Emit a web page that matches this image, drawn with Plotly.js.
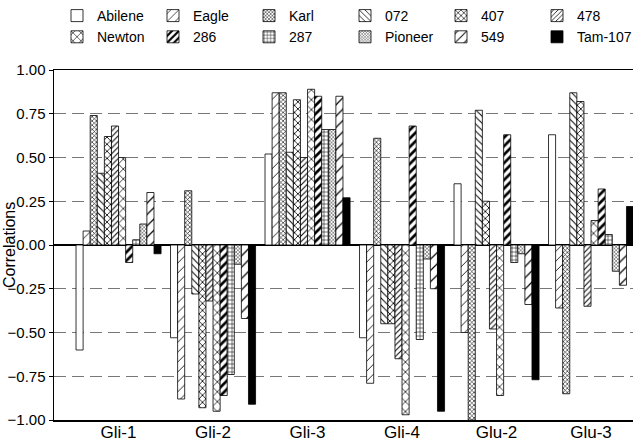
<!DOCTYPE html>
<html>
<head>
<meta charset="utf-8">
<script src="https://cdn.plot.ly/plotly-3.0.1.min.js"></script>
<style>html,body{margin:0;padding:0;background:#fff;}#chart{width:633px;height:444px;}</style>
</head>
<body>
<div id="chart"></div>
<script>
// Categories (x axis)
const categories = ["Gli-1", "Gli-2", "Gli-3", "Gli-4", "Glu-2", "Glu-3"];

// Series names (legend order)
const seriesNames = ["Abilene", "Eagle", "Karl", "072", "407", "478",
                     "Newton", "286", "287", "Pioneer", "549", "Tam-107"];

// Correlation values per series, one per category
const abilene = [-0.60, -0.53, 0.52, -0.53, 0.35, 0.63];
const eagle   = [0.08, -0.88, 0.87, -0.79, -0.50, -0.36];
const karl    = [0.74, 0.31, 0.87, 0.61, -1.00, -0.85];
const v072    = [0.41, -0.28, 0.53, -0.45, 0.77, 0.87];
const v407    = [0.62, -0.93, 0.83, -0.45, 0.25, 0.82];
const v478    = [0.68, -0.32, 0.50, -0.65, -0.48, -0.35];
const newton  = [0.50, -0.95, 0.89, -0.97, -0.86, 0.14];
const v286    = [-0.10, -0.86, 0.85, 0.68, 0.63, 0.32];
const v287    = [0.03, -0.74, 0.66, -0.54, -0.10, 0.06];
const pioneer = [0.12, -0.11, 0.66, -0.08, -0.05, -0.15];
const v549    = [0.30, -0.42, 0.85, -0.25, -0.34, -0.23];
const tam107  = [-0.05, -0.91, 0.27, -0.95, -0.77, 0.22];

const seriesValues = [abilene, eagle, karl, v072, v407, v478,
                      newton, v286, v287, pioneer, v549, tam107];

// Fill styles (pattern per series)
const styles = [
  {shape: "", color: "white"},
  {shape: "/", size: 7, solidity: 0.12},
  {shape: "x", size: 3, solidity: 0.35},
  {shape: "\\", size: 5, solidity: 0.2},
  {shape: "x", size: 5, solidity: 0.3},
  {shape: "/", size: 4, solidity: 0.25},
  {shape: "x", size: 7, solidity: 0.2},
  {shape: "/", size: 6, solidity: 0.45},
  {shape: "+", size: 4, solidity: 0.25},
  {shape: "x", size: 2.5, solidity: 0.3},
  {shape: "/", size: 8, solidity: 0.15},
  {shape: "", color: "black"}
];

const traces = seriesNames.map((name, i) => {
  const st = styles[i];
  const marker = {line: {color: "black", width: 0.8}};
  if (st.shape === "") {
    marker.color = st.color;
  } else {
    marker.color = "white";
    marker.pattern = {shape: st.shape, size: st.size, solidity: st.solidity,
                      fgcolor: "black", bgcolor: "white", fillmode: "replace"};
  }
  return {type: "bar", name: name, x: categories, y: seriesValues[i], marker: marker};
});

const font = "Liberation Sans, Arial, Helvetica, sans-serif";
const plotLeft = 54, plotRight = 0;
const plotW = 633 - plotLeft - plotRight;

const layout = {
  width: 633, height: 444,
  margin: {l: plotLeft, r: plotRight, t: 70, b: 24},
  paper_bgcolor: "white", plot_bgcolor: "white",
  barmode: "group", bargap: 0.1, bargroupgap: 0,
  font: {family: font, color: "black", size: 16},
  showlegend: true,
  legend: {orientation: "h", xref: "container", yref: "container",
           x: 57/633, y: 1, xanchor: "left", yanchor: "top",
           entrywidth: 51, entrywidthmode: "pixels",
           font: {family: font, size: 14, color: "black"},
           traceorder: "normal", bgcolor: "rgba(0,0,0,0)"},
  xaxis: {type: "category", range: [-0.683, 5.444],
          showline: true, mirror: true, linecolor: "black", linewidth: 1.5,
          ticks: "", showgrid: false, tickfont: {size: 17}, ticklabelstandoff: -4,
          automargin: false},
  yaxis: {range: [-1, 1], dtick: 0.25, tick0: 0, tickformat: ".2f",
          showline: true, linecolor: "black", linewidth: 1.5,
          ticks: "outside", ticklen: 4, tickwidth: 1, tickcolor: "black",
          showgrid: true, gridcolor: "#777", griddash: "12px,6px", gridwidth: 1,
          zeroline: true, zerolinecolor: "black", zerolinewidth: 1.2,
          tickfont: {size: 15}, automargin: false},
  annotations: [{text: "Correlations", xref: "paper", yref: "paper",
                 x: (9 - plotLeft) / plotW, y: 0.5, xanchor: "center", yanchor: "middle",
                 textangle: -90, showarrow: false, font: {family: font, size: 16, color: "black"}}]
};

Plotly.newPlot("chart", traces, layout, {displayModeBar: false, staticPlot: true});
</script>
</body>
</html>
